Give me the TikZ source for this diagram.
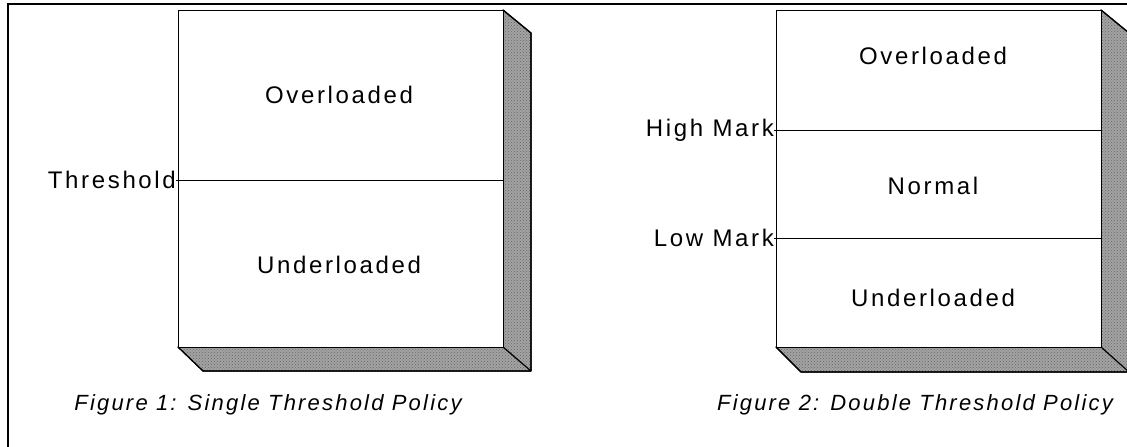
\documentclass[tikz,border=0pt]{standalone}
\usepackage{fontspec}
\usetikzlibrary{patterns}
\setmainfont{Liberation Sans}
\newfontfamily\lblfont[LetterSpace=11]{Liberation Sans}
\newfontfamily\capfont[LetterSpace=10]{Liberation Sans Italic}
\begin{document}
\begin{tikzpicture}[x=1pt,y=-1pt,
  lbl/.style={font=\lblfont\fontsize{24}{28}\selectfont, inner sep=0pt},
  figcap/.style={font=\capfont\fontsize{22}{26}\selectfont, inner sep=0pt},
  boxline/.style={draw=black, line width=1.2pt},
  shade3d/.style={fill=black!36, draw=black, line width=1.2pt, line join=round},
  stipple/.style={pattern=crosshatch dots, pattern color=black!60},
  divider/.style={draw=black, line width=0.9pt}]
\useasboundingbox (0,0) rectangle (1127,447);
% outer frame (top and left edges)
\draw[line width=2.2pt] (8,447) -- (8,4) -- (1127,4);

% ---- box 1: single threshold ----
\coordinate (a1) at (178,10);
\filldraw[shade3d] (503,10) -- (531,33) -- (531,371) -- (203,371) -- (178,347) -- (503,347) -- cycle;
\fill[stipple] (503,10) -- (531,33) -- (531,371) -- (203,371) -- (178,347) -- (503,347) -- cycle;
\draw[shade3d, fill=none] (503,10) -- (531,33) -- (531,371) -- (203,371) -- (178,347) (503,347) -- (531,371);
\node[boxline, fill=white, inner sep=0pt, minimum width=325pt, minimum height=337pt, anchor=north west] (box1) at (a1) {};
\node[lbl] (ov1) at (339,95) {Overloaded};
\node[lbl] (un1) at (339,265) {Underloaded};
\node[lbl, anchor=east] (thr) at (176,180) {Threshold};
\draw[divider] (thr.east) -- (thr.east -| box1.east);
\node[figcap] (cap1) at (268,405) {Figure 1: Single Threshold Policy};

% ---- box 2: double threshold ----
\coordinate (a2) at (776,10);
\filldraw[shade3d] (1101,10) -- (1129,33) -- (1129,372) -- (801,372) -- (776,347) -- (1101,347) -- cycle;
\fill[stipple] (1101,10) -- (1129,33) -- (1129,372) -- (801,372) -- (776,347) -- (1101,347) -- cycle;
\draw[shade3d, fill=none] (1101,10) -- (1129,33) (1129,372) -- (801,372) -- (776,347) (1101,347) -- (1129,372);
\node[boxline, fill=white, inner sep=0pt, minimum width=325pt, minimum height=337pt, anchor=north west] (box2) at (a2) {};
\node[lbl] (ov2) at (933,56) {Overloaded};
\node[lbl] (nm2) at (933,186) {Normal};
\node[lbl] (un2) at (933,298) {Underloaded};
\node[lbl, anchor=east] (hi) at (774,130) {High Mark};
\node[lbl, anchor=east] (lo) at (774,238) {Low Mark};
\draw[divider] (hi.east) -- (hi.east -| box2.east);
\draw[divider] (lo.east) -- (lo.east -| box2.east);
\node[figcap] (cap2) at (915,405) {Figure 2: Double Threshold Policy};
\end{tikzpicture}
\end{document}
